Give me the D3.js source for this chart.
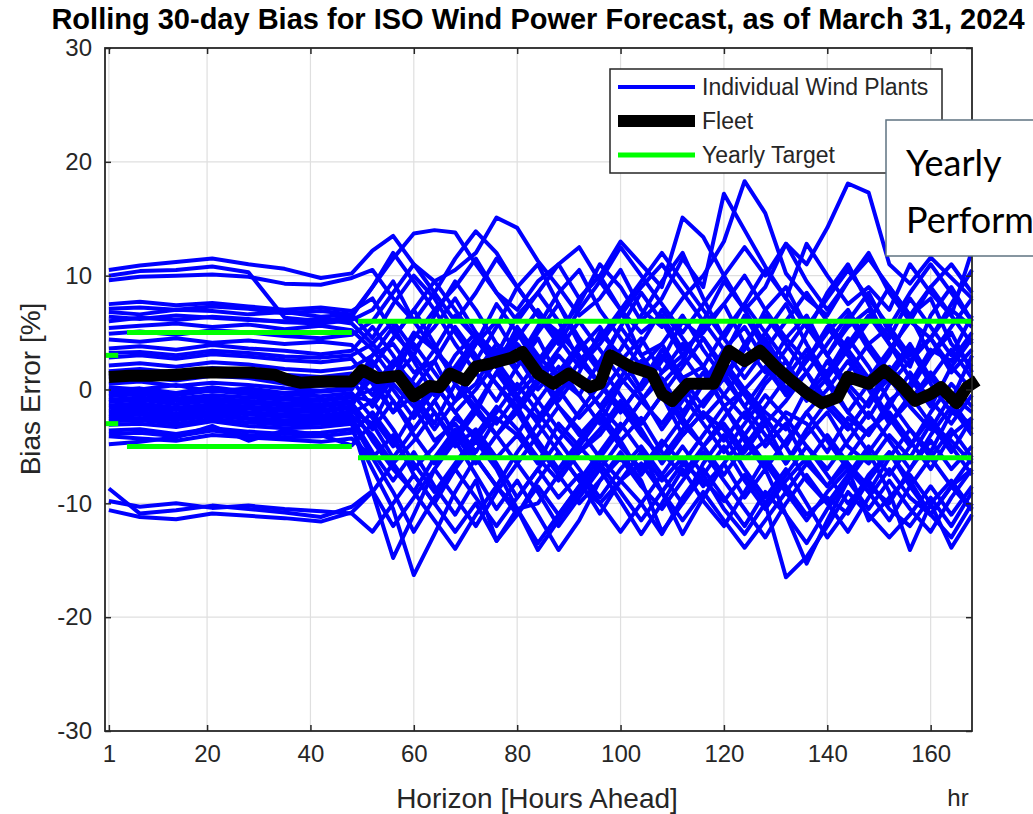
<!DOCTYPE html>
<html>
<head>
<meta charset="utf-8">
<script src="https://cdn.jsdelivr.net/npm/d3@7"></script>
<style>
  body { margin: 0; background: #fff; }
  svg text { font-family: "Liberation Sans", Arial, sans-serif; fill: #262626; }
</style>
</head>
<body>
<div id="chart"></div>
<script>
// forecast horizon (hours ahead) at which each plant value was read
var hours = [1, 7, 14, 21, 28, 35, 42, 48,
  52, 56, 60, 64, 68, 72, 76, 80, 84, 88, 92, 96, 100, 104, 108, 112, 116, 120,
  124, 128, 132, 136, 140, 144, 148, 152, 156, 160, 164, 168];

// rolling 30-day bias [%] per wind plant, one row per plant
var plantBias = [
  [10.5,10.9,11.2,11.5,11.0,10.6,9.8,10.2, 12.2,13.5,11.0,9.5,10.5,12.0,15.1,14.2,11.3,9.0,6.5,8.0,10.5,7.0,5.5,8.0,10.0,13.0,18.3,15.5,10.2,8.0,6.5,9.5,12.0,8.5,6.0,4.5,7.5,10.5],
  [10.0,10.4,10.5,10.8,10.3,6.3,6.0,6.4, 9.0,11.5,13.7,14.0,13.8,11.0,8.5,7.0,9.5,11.0,8.0,10.0,13.0,11.0,9.0,15.1,13.4,10.0,7.0,9.0,12.8,11.0,14.2,18.1,17.3,11.0,9.3,11.6,9.8,8.0],
  [9.6,9.9,10.0,10.1,9.9,9.3,9.2,9.8, 10.5,8.0,6.0,8.5,11.5,13.9,12.0,9.0,6.5,5.0,7.5,11.0,9.0,6.0,8.0,11.5,9.0,17.2,14.0,10.8,8.0,12.8,10.0,7.5,9.0,7.0,11.0,8.5,6.5,12.2],
  [7.5,7.7,7.4,7.6,7.3,7.0,7.2,6.9, 8.0,5.0,3.0,6.5,9.5,7.0,4.0,2.5,5.5,8.5,10.5,7.0,4.5,2.0,4.0,6.5,3.5,1.0,3.5,7.0,9.0,5.5,3.0,6.0,8.5,5.0,2.5,4.5,7.0,5.5],
  [6.8,6.6,7.0,6.9,6.6,6.8,6.4,6.6, 4.5,7.5,10.0,8.0,5.0,2.5,5.5,9.0,11.0,7.5,4.0,1.5,3.5,6.5,9.5,12.0,8.0,4.5,2.0,5.0,7.5,4.0,1.0,3.5,6.0,9.0,6.5,3.0,5.5,8.0],
  [6.0,6.3,6.1,6.4,6.2,5.9,5.8,6.1, 7.0,9.5,6.0,3.5,1.0,4.0,7.5,5.0,2.0,4.5,8.0,10.0,7.0,3.0,0.5,2.5,6.0,9.5,7.0,4.0,1.5,5.0,8.5,11.0,7.5,4.0,2.0,6.5,9.0,6.0],
  [5.4,5.6,5.8,5.5,5.7,5.3,5.6,5.2, 3.5,1.0,4.5,7.0,4.0,1.5,-1.0,2.0,5.0,7.5,4.5,2.0,5.5,8.5,6.0,3.0,0.5,3.0,6.5,3.5,0.0,2.5,5.5,3.0,0.5,3.0,6.5,8.0,4.0,2.0],
  [4.4,4.2,4.5,4.1,4.3,4.0,4.2,3.9, 2.0,4.5,7.0,4.0,0.5,-2.0,1.5,4.0,2.0,-1.0,1.5,5.0,3.0,0.0,2.5,6.0,4.5,1.5,-1.5,1.0,3.5,6.0,3.0,0.5,-1.5,1.5,4.0,1.0,-1.0,3.0],
  [3.6,3.8,3.5,3.9,3.6,3.4,3.1,3.4, 5.5,3.0,0.0,2.5,5.5,3.0,0.5,-1.5,1.0,3.5,6.0,3.5,1.0,4.0,7.0,4.5,2.0,5.0,7.5,5.0,2.5,-0.5,1.5,4.0,6.5,4.0,1.0,-1.5,2.0,4.5],
  [2.8,3.0,2.7,3.1,2.9,2.6,2.4,2.7, 0.5,-2.0,1.0,3.5,1.5,4.0,6.0,3.0,0.0,2.0,-0.5,-3.0,0.5,2.5,0.0,-2.5,0.5,3.5,5.5,2.5,-0.5,1.5,-1.5,-3.5,-1.0,2.0,0.0,3.0,5.0,1.5],
  [2.1,2.3,2.0,2.4,2.2,1.8,1.6,1.9, 3.0,5.5,2.5,-0.5,2.0,4.5,2.0,-0.5,-3.0,-0.5,2.5,0.5,-2.0,0.5,3.0,0.5,-2.5,-0.5,2.0,4.5,1.5,-1.0,1.0,-2.0,-4.0,-1.5,1.5,-1.0,-3.0,-0.5],
  [1.2,1.4,1.1,1.5,1.3,0.9,0.6,0.8, -1.5,1.0,3.0,0.5,-2.0,0.0,2.5,5.0,2.5,0.0,-2.5,-0.5,2.0,-0.5,-3.5,-1.0,1.5,-1.5,-4.0,-1.5,1.0,3.5,0.5,-2.0,0.5,-2.5,-5.0,-2.0,0.5,-1.5],
  [0.5,0.7,0.3,0.6,0.4,0.1,-0.1,0.2, 1.5,-1.0,-3.5,-1.0,1.5,-1.0,-3.0,-0.5,1.5,-1.5,-4.0,-2.0,0.5,2.5,0.0,-3.0,-5.0,-2.5,0.0,-2.5,-5.0,-2.0,0.0,2.5,0.0,-3.0,-1.0,1.5,-1.0,-3.5],
  [-0.1,0.1,-0.3,0.2,-0.2,-0.4,-0.6,-0.3, -2.5,-5.0,-2.0,0.5,-2.0,-4.5,-2.0,0.5,-2.0,-4.5,-2.0,0.5,-1.5,-4.0,-6.0,-3.5,-1.0,1.0,-1.5,-4.0,-6.5,-3.5,-1.0,-3.0,-5.5,-3.0,-0.5,-3.0,-5.5,-2.5],
  [-0.6,-0.4,-0.8,-0.5,-0.7,-0.9,-1.0,-0.7, 0.0,2.5,0.5,-2.0,-4.5,-2.0,-4.0,-6.5,-4.0,-1.5,-3.5,-6.0,-3.5,-1.0,-3.0,-0.5,-3.0,-5.5,-3.0,-0.5,-2.5,-5.0,-7.0,-4.5,-2.0,-4.5,-7.0,-4.0,-1.5,-4.0],
  [-1.1,-0.9,-1.3,-1.0,-1.2,-1.4,-1.5,-1.2, -3.5,-1.0,-4.0,-6.5,-4.0,-1.5,-4.0,-2.0,-5.0,-7.5,-5.0,-2.5,-5.0,-7.0,-4.5,-6.5,-4.0,-1.5,-4.5,-7.0,-4.5,-2.0,-4.5,-7.0,-9.0,-6.0,-3.5,-6.0,-3.5,-6.0],
  [-1.6,-1.5,-1.8,-1.4,-1.7,-1.9,-2.0,-1.6, -4.5,-7.0,-9.0,-6.0,-3.5,-6.0,-8.5,-5.5,-3.0,-5.5,-8.0,-5.5,-3.0,-5.5,-8.0,-6.0,-8.5,-6.5,-4.0,-6.5,-9.0,-6.5,-4.0,-6.5,-8.5,-10.0,-7.0,-4.5,-7.0,-5.0],
  [-2.1,-2.0,-2.3,-1.9,-2.2,-2.4,-2.5,-2.1, -1.0,-3.5,-6.5,-9.0,-6.5,-4.0,-6.5,-9.5,-7.0,-4.5,-7.0,-9.5,-7.0,-5.0,-7.5,-10.0,-7.5,-5.0,-8.0,-10.5,-8.0,-6.0,-8.5,-6.5,-9.0,-11.5,-8.5,-6.0,-8.5,-7.0],
  [-2.6,-2.5,-2.7,-2.3,-2.6,-2.9,-2.8,-2.5, -5.5,-8.0,-5.5,-8.5,-11.0,-8.0,-13.3,-10.5,-10.0,-7.5,-10.0,-8.0,-6.0,-8.5,-10.5,-8.0,-5.5,-8.0,-10.5,-13.0,-10.0,-7.5,-10.0,-12.5,-9.5,-7.0,-9.5,-11.0,-8.5,-6.0],
  [-3.1,-3.0,-3.3,-2.8,-3.2,-3.4,-3.3,-3.0, -9.0,-14.8,-11.0,-7.0,-4.5,-7.5,-10.5,-8.0,-11.0,-14.1,-11.5,-8.0,-5.5,-8.0,-12.5,-10.0,-6.5,-4.0,-7.0,-9.5,-7.0,-10.0,-13.0,-10.5,-7.5,-5.5,-8.5,-11.0,-8.5,-10.6],
  [-3.6,-3.5,-3.9,-3.4,-3.7,-3.9,-3.8,-3.5, -7.0,-10.5,-16.3,-12.7,-9.0,-6.0,-8.5,-11.0,-8.0,-5.5,-8.0,-10.9,-8.0,-5.5,-9.0,-12.7,-9.5,-6.5,-9.5,-7.0,-11.0,-15.3,-11.5,-8.0,-5.5,-9.0,-14.1,-10.0,-13.9,-11.0],
  [-4.1,-4.3,-4.5,-4.0,-4.2,-4.4,-4.6,-4.3, -6.0,-4.0,-7.5,-10.0,-7.0,-4.5,-7.0,-10.5,-13.5,-11.0,-8.5,-6.0,-8.0,-10.0,-7.5,-5.0,-7.5,-10.5,-12.7,-10.0,-7.5,-5.0,-7.5,-10.0,-8.0,-5.5,-8.0,-11.0,-13.0,-10.0],
  [-4.8,-4.6,-4.2,-3.2,-4.5,-3.6,-4.0,-4.9, -3.0,-6.0,-3.5,-1.0,-4.0,-6.5,-4.0,-1.5,-4.5,-7.0,-4.5,-2.0,-4.5,-7.5,-5.0,-2.5,-5.0,-7.5,-5.0,-2.5,-5.0,-8.0,-10.0,-7.5,-5.0,-7.5,-5.0,-2.5,-5.0,-7.5],
  [-8.7,-10.9,-10.6,-10.2,-10.5,-10.8,-11.2,-10.3, -8.9,-12.0,-9.5,-7.0,-9.5,-12.0,-9.0,-6.5,-9.0,-12.0,-9.5,-7.0,-9.8,-12.7,-10.0,-7.0,-9.8,-12.0,-9.0,-6.0,-8.5,-11.0,-9.5,-10.9,-8.0,-10.5,-12.0,-9.5,-12.0,-9.0],
  [-9.8,-10.3,-10.0,-10.4,-10.2,-10.5,-10.7,-10.9, -12.5,-10.0,-7.5,-10.0,-12.5,-10.0,-13.3,-11.0,-8.5,-11.0,-8.5,-10.0,-8.0,-6.5,-9.0,-11.5,-9.0,-11.5,-13.9,-11.5,-9.0,-11.5,-9.0,-7.0,-11.5,-9.5,-7.5,-10.0,-8.0,-10.5],
  [-10.6,-11.2,-11.4,-10.9,-11.1,-11.3,-11.6,-10.8, -9.0,-6.5,-9.0,-11.5,-14.0,-11.0,-8.5,-10.5,-14.1,-11.5,-9.0,-6.5,-9.0,-11.5,-9.0,-6.5,-8.0,-9.8,-7.5,-10.0,-16.5,-14.7,-12.0,-9.0,-11.0,-13.0,-11.0,-8.5,-11.0,-8.5],
  [0.9,1.1,0.8,1.2,1.0,0.5,0.3,0.5, 2.5,0.0,-2.5,0.0,3.0,5.0,2.5,0.0,2.5,5.0,3.0,0.5,-2.0,0.5,3.5,1.0,-1.5,1.0,4.0,6.5,4.0,1.5,-1.0,1.5,4.0,1.5,-1.0,1.0,3.5,1.0],
  [-0.3,-0.2,-0.5,-0.1,-0.4,-0.7,-0.9,-0.6, -1.0,1.5,-1.0,-3.5,-1.0,1.5,4.0,1.5,-1.0,1.5,4.0,2.0,-0.5,-3.0,-0.5,2.0,4.5,2.0,-0.5,-3.0,-1.0,1.5,4.0,6.5,3.5,1.0,3.5,0.5,-2.0,0.5],
  [-1.4,-1.2,-1.6,-1.3,-1.5,-1.7,-1.8,-1.5, 2.0,4.5,7.0,9.5,7.0,4.5,2.0,4.5,7.0,4.5,2.0,4.0,6.5,9.0,11.0,8.5,6.0,3.5,1.0,3.5,6.0,8.5,6.0,3.5,1.0,3.5,6.0,9.0,6.5,4.0],
  [4.9,5.1,4.8,5.2,5.0,4.7,4.5,4.8, 6.0,8.5,11.0,8.5,6.0,8.5,11.5,9.0,6.5,4.0,7.0,9.5,12.5,10.0,7.5,5.0,7.5,10.0,12.5,10.0,12.8,9.5,7.0,9.5,11.5,9.0,6.5,9.0,11.0,8.5],
  [7.1,7.2,7.0,7.3,7.1,6.7,6.9,6.6, 9.0,12.0,9.5,7.0,9.0,11.5,8.5,6.0,8.5,11.0,12.5,9.5,7.0,9.5,12.0,9.5,7.0,4.5,7.5,10.5,8.0,5.5,8.0,10.5,8.0,5.5,8.5,11.0,8.5,6.0],
  [-2.8,-2.7,-3.0,-2.6,-2.9,-3.1,-3.0,-2.8, -6.0,-9.0,-12.5,-9.5,-7.0,-9.5,-12.0,-9.5,-7.0,-9.5,-7.5,-10.0,-12.5,-10.0,-12.7,-9.5,-7.0,-9.5,-12.0,-9.0,-11.0,-13.5,-10.5,-8.0,-10.5,-8.0,-10.5,-12.5,-9.5,-7.0],
  [0.2,0.0,0.4,-0.2,0.1,-0.3,-0.2,0.0, 3.0,4.0,1.5,2.5,-1.0,0.5,3.5,2.0,4.5,1.0,-0.5,2.5,5.5,3.0,4.0,1.0,2.0,-1.5,0.0,2.0,-0.5,3.0,1.5,4.5,2.0,-1.0,0.5,3.5,2.5,5.0],
  [-1.9,-1.7,-2.1,-1.6,-2.0,-2.2,-2.3,-1.9, -3.0,0.5,-1.5,-4.5,-3.0,-5.5,-2.5,-4.0,-1.0,-3.5,-5.5,-4.0,-1.5,-3.0,-0.5,-4.0,-2.0,-3.5,-6.0,-4.5,-2.0,-3.0,-5.5,-2.5,-4.0,-1.0,-3.5,-5.5,-2.0,-3.0],
  [3.2,3.3,3.0,3.4,3.2,2.9,2.8,3.0, 4.0,2.0,5.0,3.5,6.5,4.5,2.0,5.5,3.0,1.0,3.5,5.5,2.5,4.5,1.5,3.0,5.5,7.5,4.0,1.5,4.5,2.5,5.0,7.0,4.0,5.5,3.0,4.5,1.5,3.5],
  [-0.9,-0.7,-1.0,-0.8,-1.0,-1.2,-1.3,-1.0, 1.0,-2.0,-0.5,-3.0,0.5,-1.5,1.5,-1.0,-2.5,0.0,1.0,-1.5,-3.5,-1.0,1.0,-2.0,0.5,2.5,0.0,-2.0,-3.5,0.0,-1.5,-3.5,-1.0,1.0,-1.5,-3.5,-0.5,-2.0],
  [6.4,6.2,6.5,6.3,6.1,6.0,6.2,5.8, 4.0,6.0,3.5,5.5,8.0,5.0,3.0,6.5,8.5,6.0,2.5,4.5,7.0,5.0,6.5,3.5,5.0,7.5,10.0,7.0,4.5,6.5,3.0,5.5,7.0,4.5,8.0,5.5,3.0,6.5],
  [-2.4,-2.2,-2.6,-2.1,-2.5,-2.7,-2.6,-2.3, -4.0,-6.5,-4.5,-2.0,-5.0,-3.5,-6.0,-4.0,-6.5,-3.0,-5.0,-7.0,-4.5,-2.5,-5.5,-7.5,-5.0,-3.0,-5.5,-3.0,-6.5,-4.0,-2.0,-5.0,-6.5,-4.0,-6.0,-3.0,-4.5,-6.5],
  [1.6,1.8,1.5,1.9,1.7,1.3,1.1,1.4, -0.5,2.0,4.0,1.5,-1.0,2.5,0.5,-2.0,0.5,3.0,1.0,-1.5,1.0,-1.0,1.5,4.0,2.0,-0.5,-2.5,0.5,2.5,-0.5,2.5,0.0,-2.5,0.5,2.5,4.5,2.0,0.0],
  [-3.9,-3.8,-4.1,-3.6,-4.0,-4.2,-4.1,-3.8, -2.0,-4.5,-7.0,-5.0,-2.5,-4.0,-1.5,-3.5,-6.0,-8.0,-5.5,-3.5,-1.0,-3.5,-6.5,-4.0,-2.0,-4.5,-2.0,-5.0,-3.0,-6.5,-8.5,-6.0,-3.5,-2.0,-4.5,-7.0,-4.0,-2.5]
];

// fleet-wide bias
var fleetHours = [1, 5, 9, 14, 19, 24, 28, 33, 36, 38, 42, 46, 48, 50, 53, 57, 60, 63, 65, 67,
  70, 72, 75, 79, 81, 84, 87, 90, 94, 96, 98, 102, 106, 108, 110, 113, 115, 118, 121, 124,
  127, 130, 133, 136, 139, 142, 144, 148, 151, 154, 157, 160, 162, 165, 167, 169];
var fleetBias = [1.1, 1.2, 1.2, 1.3, 1.5, 1.5, 1.5, 1.3, 0.8, 0.6, 0.7, 0.7, 0.7, 1.7, 1.0, 1.2, -0.6, 0.3, 0.2, 1.4,
  0.8, 2.0, 2.3, 2.8, 3.3, 1.4, 0.5, 1.4, 0.2, 0.5, 3.0, 2.0, 1.4, -0.4, -1.0, 0.5, 0.5, 0.5, 3.4, 2.5,
  3.4, 2.0, 0.8, -0.3, -1.2, -0.7, 1.1, 0.5, 1.7, 0.5, -1.0, -0.4, 0.2, -1.2, 0.2, 0.8];

// yearly target bands (+/-)
var targetStart = [0.25, 4.5, 49.2];
var targetEnd = [2.8, 48, 168];
var targetLevel = [3, 5, 6];

var xTicks = [1, 20, 40, 60, 80, 100, 120, 140, 160];
var yTicks = [-30, -20, -10, 0, 10, 20, 30];
var legendLabels = ["Individual Wind Plants", "Fleet", "Yearly Target"];

var width = 1033, height = 814;
var plot = {left: 105, right: 972, top: 48, bottom: 731};

var svg = d3.select("#chart").append("svg")
  .attr("width", width)
  .attr("height", height);

var x = d3.scaleLinear().domain([0.25, 168]).range([plot.left, plot.right]);
var y = d3.scaleLinear().domain([-30, 30]).range([plot.bottom, plot.top]);

// grid
svg.append("g").selectAll("line")
  .data(xTicks).enter().append("line")
  .attr("x1", d => x(d)).attr("x2", d => x(d))
  .attr("y1", plot.top).attr("y2", plot.bottom)
  .attr("stroke", "#dfdfdf").attr("stroke-width", 1.2);
svg.append("g").selectAll("line")
  .data(yTicks.slice(1, -1)).enter().append("line")
  .attr("x1", plot.left).attr("x2", plot.right)
  .attr("y1", d => y(d)).attr("y2", d => y(d))
  .attr("stroke", "#dfdfdf").attr("stroke-width", 1.2);

var line = d3.line()
  .x(d => x(d[0]))
  .y(d => y(d[1]));

// individual plants
svg.append("g").selectAll("path")
  .data(plantBias).enter().append("path")
  .attr("d", row => line(row.map((v, i) => [hours[i], v])))
  .attr("fill", "none")
  .attr("stroke", "#0000ff")
  .attr("stroke-width", 4)
  .attr("stroke-linejoin", "round");

// fleet
svg.append("path")
  .attr("d", line(fleetBias.map((v, i) => [fleetHours[i], v])))
  .attr("fill", "none")
  .attr("stroke", "#000")
  .attr("stroke-width", 12)
  .attr("stroke-linejoin", "round");

// targets
var targets = [];
targetLevel.forEach(function(lv, i) {
  targets.push({a: targetStart[i], b: targetEnd[i], v: lv});
  targets.push({a: targetStart[i], b: targetEnd[i], v: -lv});
});
svg.append("g").selectAll("line")
  .data(targets).enter().append("line")
  .attr("x1", d => x(d.a)).attr("x2", d => x(d.b))
  .attr("y1", d => y(d.v)).attr("y2", d => y(d.v))
  .attr("stroke", "#00ff00")
  .attr("stroke-width", 5);

// axes box + mirrored ticks
var axisColor = "#262626";
var plain = d => String(d);
svg.append("g")
  .attr("transform", `translate(0,${plot.bottom})`)
  .call(d3.axisBottom(x).tickValues(xTicks).tickSize(-6).tickPadding(14).tickFormat(plain))
  .call(g => g.select(".domain").remove())
  .call(g => g.selectAll("line").attr("stroke", axisColor).attr("stroke-width", 1.5))
  .call(g => g.selectAll("text").attr("font-size", 24).attr("font-family", "Liberation Sans, Arial, sans-serif").attr("fill", axisColor));
svg.append("g")
  .attr("transform", `translate(0,${plot.top})`)
  .call(d3.axisTop(x).tickValues(xTicks).tickSize(-6).tickFormat(""))
  .call(g => g.select(".domain").remove())
  .call(g => g.selectAll("line").attr("stroke", axisColor).attr("stroke-width", 1.5));
svg.append("g")
  .attr("transform", `translate(${plot.left},0)`)
  .call(d3.axisLeft(y).tickValues(yTicks).tickSize(-6).tickPadding(13).tickFormat(plain))
  .call(g => g.select(".domain").remove())
  .call(g => g.selectAll("line").attr("stroke", axisColor).attr("stroke-width", 1.5))
  .call(g => g.selectAll("text").attr("font-size", 24).attr("font-family", "Liberation Sans, Arial, sans-serif").attr("fill", axisColor));
svg.append("g")
  .attr("transform", `translate(${plot.right},0)`)
  .call(d3.axisRight(y).tickValues(yTicks).tickSize(-6).tickFormat(""))
  .call(g => g.select(".domain").remove())
  .call(g => g.selectAll("line").attr("stroke", axisColor).attr("stroke-width", 1.5));
svg.append("rect")
  .attr("x", plot.left).attr("y", plot.top)
  .attr("width", plot.right - plot.left).attr("height", plot.bottom - plot.top)
  .attr("fill", "none").attr("stroke", axisColor).attr("stroke-width", 1.8);

// labels
svg.append("text")
  .attr("x", 538).attr("y", 29)
  .attr("text-anchor", "middle")
  .attr("font-weight", "bold").attr("font-size", 29)
  .style("fill", "#000")
  .text("Rolling 30-day Bias for ISO Wind Power Forecast, as of March 31, 2024");
svg.append("text")
  .attr("x", 537).attr("y", 808)
  .attr("text-anchor", "middle").attr("font-size", 28)
  .text("Horizon [Hours Ahead]");
svg.append("text")
  .attr("x", 958).attr("y", 806)
  .attr("text-anchor", "middle").attr("font-size", 24)
  .text("hr");
svg.append("text")
  .attr("transform", "translate(40,389) rotate(-90)")
  .attr("text-anchor", "middle").attr("font-size", 28)
  .text("Bias Error [%]");

// legend
var legend = svg.append("g");
legend.append("rect")
  .attr("x", 610).attr("y", 69).attr("width", 332).attr("height", 104)
  .attr("fill", "#fff").attr("stroke", axisColor).attr("stroke-width", 1.5);
var legendStyle = [{c: "#0000ff", w: 4}, {c: "#000", w: 12}, {c: "#00ff00", w: 5}];
legendLabels.forEach(function(lbl, i) {
  var ly = 87 + i * 34;
  legend.append("line")
    .attr("x1", 618).attr("x2", 695).attr("y1", ly).attr("y2", ly)
    .attr("stroke", legendStyle[i].c).attr("stroke-width", legendStyle[i].w);
  legend.append("text")
    .attr("x", 702).attr("y", ly + 8)
    .attr("font-size", 23)
    .text(lbl);
});

// overlaid text box (runs off the right edge of the slide)
var note = svg.append("g");
note.append("rect")
  .attr("x", 886).attr("y", 120).attr("width", 200).attr("height", 136)
  .attr("fill", "#fff").attr("stroke", "#5f7381").attr("stroke-width", 1.5);
note.append("text")
  .attr("x", 906).attr("y", 176)
  .attr("font-size", 36).style("font-family", "Lato, 'Open Sans', sans-serif").style("fill", "#000")
  .text("Yearly");
note.append("text")
  .attr("x", 906).attr("y", 233)
  .attr("font-size", 36).style("font-family", "Lato, 'Open Sans', sans-serif").style("fill", "#000")
  .text("Performance");
</script>
</body>
</html>
